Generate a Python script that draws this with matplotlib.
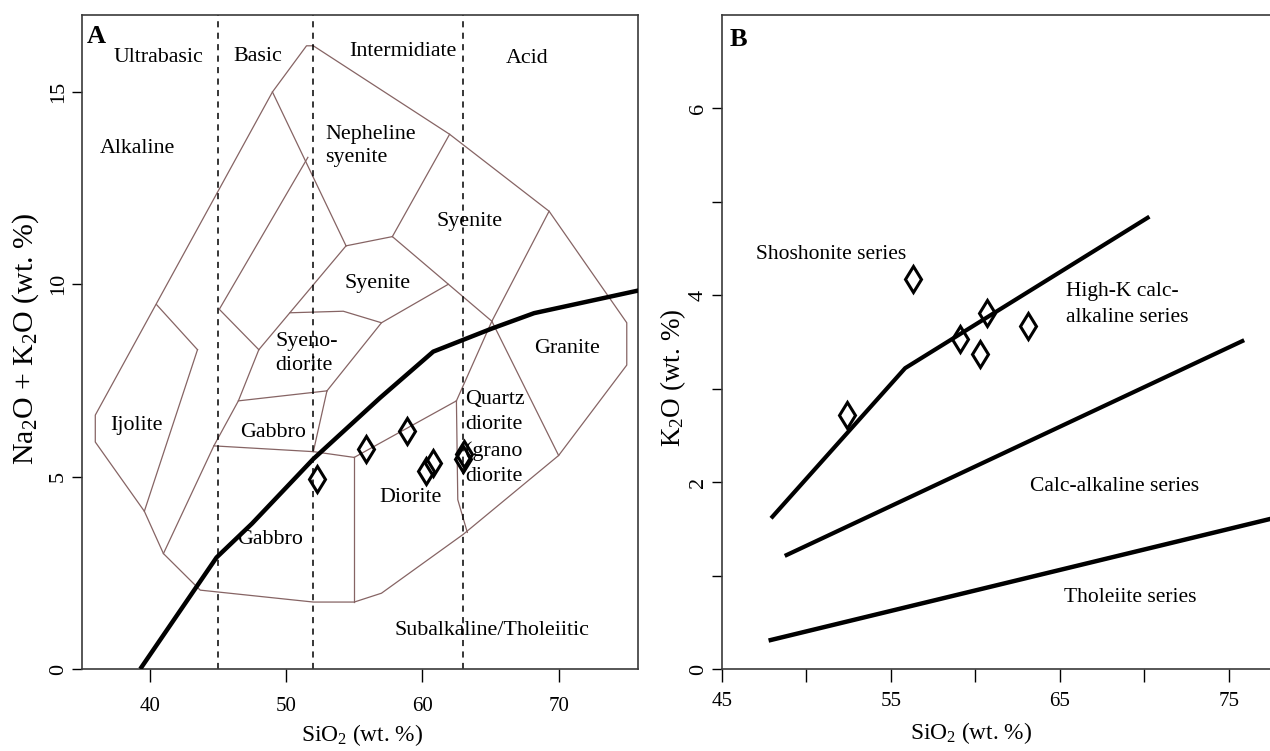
import matplotlib
matplotlib.use('Agg')
import matplotlib.pyplot as plt

plt.rcParams['font.family'] = 'serif'
plt.rcParams['font.serif'] = ['Liberation Serif', 'DejaVu Serif']
plt.rcParams['mathtext.fontset'] = 'custom'
plt.rcParams['mathtext.rm'] = 'Liberation Serif'
plt.rcParams['mathtext.it'] = 'Liberation Serif:italic'
plt.rcParams['mathtext.bf'] = 'Liberation Serif:bold'
plt.rcParams['mathtext.default'] = 'regular'

# ---------------- Panel A: TAS (plutonic) field boundaries ----------------
outer_x = [52.0, 51.5, 49.0, 36.0, 36.0, 39.6, 41.0, 43.7, 52.0, 55.0, 57.0, 63.0, 70.0, 75.0, 75.0, 69.3, 62.0, 52.0]
outer_y = [16.2, 16.2, 15.0, 6.6, 5.9, 4.1, 3.0, 2.05, 1.74, 1.74, 1.97, 3.5, 5.55, 7.9, 9.0, 11.9, 13.9, 16.2]
ijolite_top_x, ijolite_top_y = [40.5, 43.5], [9.47, 8.3]
ijolite_right_x, ijolite_right_y = [43.5, 39.6], [8.3, 4.1]
inner_x, inner_y = [51.6, 45.1, 48.0], [13.3, 9.35, 8.3]
gabbro_left_x, gabbro_left_y = [48.0, 46.5, 44.7, 41.0], [8.3, 6.97, 5.8, 3.0]
syenodiorite_left_x, syenodiorite_left_y = [48.0, 54.4], [8.3, 11.0]
nephsy_left_x, nephsy_left_y = [49.0, 54.4], [15.0, 11.0]
nephsy_bottom_x, nephsy_bottom_y = [54.4, 57.8], [11.0, 11.24]
nephsy_right_x, nephsy_right_y = [57.8, 62.0], [11.24, 13.9]
syenite_div_x, syenite_div_y = [57.8, 65.1], [11.24, 9.04]
syenite_granite_x, syenite_granite_y = [69.3, 65.1], [11.9, 9.04]
qd_granite_x, qd_granite_y = [65.1, 70.0], [9.04, 5.55]
syenodiorite_top_x, syenodiorite_top_y = [50.3, 54.2, 57.0, 61.9], [9.26, 9.3, 9.0, 10.0]
syenodiorite_right_x, syenodiorite_right_y = [57.0, 53.0], [9.0, 7.23]
gabbro_top_x, gabbro_top_y = [46.5, 53.0], [6.97, 7.23]
gabbro_right_x, gabbro_right_y = [53.0, 52.0], [7.23, 5.65]
gabbro_bottom_x, gabbro_bottom_y = [44.7, 52.0, 55.0], [5.8, 5.65, 5.5]
diorite_left_x, diorite_left_y = [55.0, 55.0], [5.5, 1.74]
diorite_top_x, diorite_top_y = [55.0, 62.5], [5.5, 6.97]
qd_left_x, qd_left_y = [62.5, 65.1], [6.97, 9.04]
diorite_right_x, diorite_right_y = [62.5, 62.6, 63.3], [6.97, 4.4, 3.55]

# Irvine & Baragar alkaline / subalkaline divide
ib_x = [39.3, 44.9, 47.5, 52.0, 56.9, 60.8, 65.1, 68.2, 76.0]
ib_y = [0.0, 2.9, 3.78, 5.46, 7.05, 8.25, 8.85, 9.25, 9.85]

# silica classes
silica_bounds = [45, 52, 63]

# samples
a_sio2 = [52.3, 55.9, 58.9, 60.3, 60.8, 62.95, 63.05]
a_alk = [4.94, 5.72, 6.19, 5.15, 5.35, 5.45, 5.6]

# ---------------- Panel B: K2O vs SiO2 ----------------
shosh_x, shosh_y = [48.0, 55.85, 70.2], [1.63, 3.22, 4.83]
highk_x, highk_y = [48.84, 75.8], [1.22, 3.51]
thol_x, thol_y = [47.9, 78.0], [0.31, 1.63]

b_sio2 = [52.4, 56.3, 59.1, 60.3, 60.7, 63.1]
b_k2o = [2.72, 4.17, 3.53, 3.37, 3.81, 3.67]

tas_lines = [(outer_x, outer_y), (ijolite_top_x, ijolite_top_y), (ijolite_right_x, ijolite_right_y),
             (inner_x, inner_y), (gabbro_left_x, gabbro_left_y),
             (syenodiorite_left_x, syenodiorite_left_y), (nephsy_left_x, nephsy_left_y),
             (nephsy_bottom_x, nephsy_bottom_y), (nephsy_right_x, nephsy_right_y),
             (syenite_div_x, syenite_div_y), (syenite_granite_x, syenite_granite_y),
             (qd_granite_x, qd_granite_y), (syenodiorite_top_x, syenodiorite_top_y),
             (syenodiorite_right_x, syenodiorite_right_y), (gabbro_top_x, gabbro_top_y),
             (gabbro_right_x, gabbro_right_y), (gabbro_bottom_x, gabbro_bottom_y),
             (diorite_left_x, diorite_left_y), (diorite_top_x, diorite_top_y),
             (qd_left_x, qd_left_y), (diorite_right_x, diorite_right_y)]

fig = plt.figure(figsize=(12.7, 7.51), dpi=100)
axA = fig.add_axes([0.0643, 0.1092, 0.4378, 0.8708])
axB = fig.add_axes([0.5683, 0.1092, 0.4317, 0.8708])

line_col = '#866464'
fs = 15.8

# ---- panel A ----
for lx, ly in tas_lines:
    axA.plot(lx, ly, color=line_col, lw=0.9, zorder=2)
for sb in silica_bounds:
    axA.plot([sb, sb], [0, 17], color='black', lw=1.1, ls=(0, (4, 3.5)), zorder=2)
axA.plot(ib_x, ib_y, color='black', lw=3.2, solid_capstyle='butt', zorder=3)
axA.plot(a_sio2, a_alk, ls='none', marker='d', ms=13, mfc='none', mec='black', mew=2.2, zorder=4)

axA.set_xlim(35, 75.8)
axA.set_ylim(0, 17)
axA.set_xticks([40, 50, 60, 70])
axA.set_yticks([0, 5, 10, 15])

axA.text(0.01, 0.985, 'A', transform=axA.transAxes, fontsize=19, fontweight='bold', ha='left', va='top')
axA.text(40.6, 15.9, 'Ultrabasic', fontsize=fs, ha='center', va='center')
axA.text(47.9, 15.93, 'Basic', fontsize=fs, ha='center', va='center')
axA.text(58.6, 16.06, 'Intermidiate', fontsize=fs, ha='center', va='center')
axA.text(67.7, 15.86, 'Acid', fontsize=fs, ha='center', va='center')
axA.text(39.1, 13.53, 'Alkaline', fontsize=fs, ha='center', va='center')
axA.text(52.9, 13.6, 'Nepheline\nsyenite', fontsize=fs, ha='left', va='center', linespacing=1.3)
axA.text(63.5, 11.63, 'Syenite', fontsize=fs, ha='center', va='center')
axA.text(56.7, 10.03, 'Syenite', fontsize=fs, ha='center', va='center')
axA.text(49.2, 8.2, 'Syeno-\ndiorite', fontsize=fs, ha='left', va='center', linespacing=1.4)
axA.text(49.07, 6.14, 'Gabbro', fontsize=fs, ha='center', va='center')
axA.text(39.0, 6.32, 'Ijolite', fontsize=fs, ha='center', va='center')
axA.text(48.86, 3.37, 'Gabbro', fontsize=fs, ha='center', va='center')
axA.text(59.1, 4.46, 'Diorite', fontsize=fs, ha='center', va='center')
axA.text(63.15, 6.0, 'Quartz\ndiorite\n(grano\ndiorite', fontsize=fs, ha='left', va='center', linespacing=1.45)
axA.text(70.6, 8.33, 'Granite', fontsize=fs, ha='center', va='center')
axA.text(65.1, 1.01, 'Subalkaline/Tholeiitic', fontsize=fs, ha='center', va='center')

axA.text(0.504, -0.101, 'SiO$_2$ (wt. %)', transform=axA.transAxes, fontsize=16.8, ha='center', va='center')
axA.text(-0.1, 0.505, 'Na$_2$O + K$_2$O (wt. %)', transform=axA.transAxes, fontsize=21.5,
         ha='center', va='center', rotation=90)

# ---- panel B ----
axB.plot(shosh_x, shosh_y, color='black', lw=3.0, zorder=3)
axB.plot(highk_x, highk_y, color='black', lw=3.0, zorder=3)
axB.plot(thol_x, thol_y, color='black', lw=3.2, zorder=3)
axB.plot(b_sio2, b_k2o, ls='none', marker='d', ms=13, mfc='none', mec='black', mew=2.2, zorder=4)

axB.set_xlim(45, 77.44)
axB.set_ylim(0, 7)
axB.set_xticks([45, 55, 65, 75])
axB.set_xticks([50, 60, 70], minor=True)
axB.set_yticks([0, 2, 4, 6])
axB.set_yticks([1, 3, 5], minor=True)
axB.spines['right'].set_visible(False)

axB.text(0.014, 0.98, 'B', transform=axB.transAxes, fontsize=19, fontweight='bold', ha='left', va='top')
axB.text(51.45, 4.44, 'Shoshonite series', fontsize=15.5, ha='center', va='center')
axB.text(65.35, 3.9, 'High-K calc-\nalkaline series', fontsize=15.5, ha='left', va='center', linespacing=1.45)
axB.text(68.26, 1.95, 'Calc-alkaline series', fontsize=15.5, ha='center', va='center')
axB.text(69.16, 0.77, 'Tholeiite series', fontsize=15.5, ha='center', va='center')

axB.text(0.455, -0.098, 'SiO$_2$ (wt. %)', transform=axB.transAxes, fontsize=16.8, ha='center', va='center')
axB.text(-0.088, 0.445, 'K$_2$O (wt. %)', transform=axB.transAxes, fontsize=19.5,
         ha='center', va='center', rotation=90)

# R-like axes styling
for ax in (axA, axB):
    for sp in ax.spines.values():
        sp.set_color('#3a3a3a')
        sp.set_linewidth(1.2)
    ax.tick_params(axis='both', which='both', direction='out', color='black', width=1.0)
    ax.tick_params(axis='x', which='both', length=9.5, labelsize=15)
    ax.tick_params(axis='y', which='both', length=7, pad=3, labelsize=16)
    for lab in ax.get_yticklabels():
        lab.set_rotation(90)
        lab.set_va('center')
axA.tick_params(axis='x', pad=11)
axB.tick_params(axis='x', pad=7)

fig.savefig('out.png', dpi=100)
